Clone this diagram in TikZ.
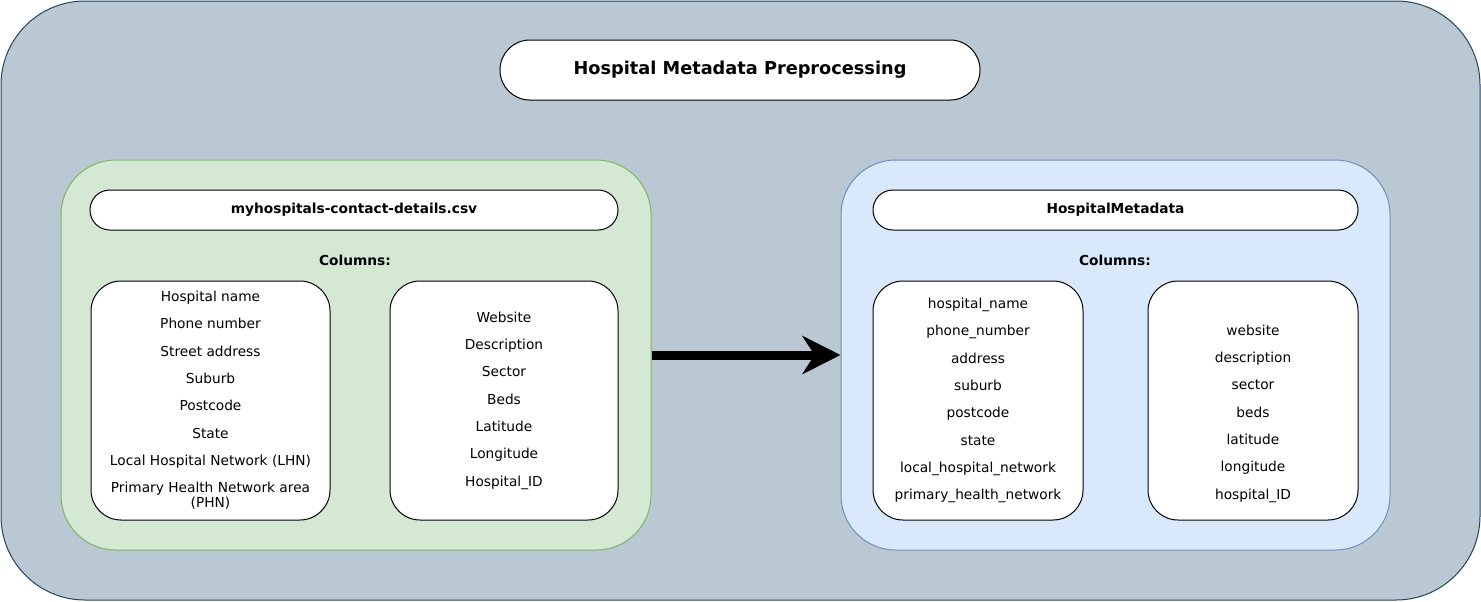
\documentclass[tikz,border=0pt]{standalone}
\usepackage{fontspec}
\setmainfont{DejaVu Sans}
\usetikzlibrary{arrows.meta,calc,positioning}
\definecolor{framefill}{HTML}{BAC8D3}
\definecolor{framedraw}{HTML}{23445D}
\definecolor{srcfill}{HTML}{D5E8D4}
\definecolor{srcdraw}{HTML}{82B366}
\definecolor{dstfill}{HTML}{DAE8FC}
\definecolor{dstdraw}{HTML}{6C8EBF}
\tikzset{
  panel/.style={draw, line width=0.75pt, rounded corners=41pt, inner sep=0pt,
    minimum height=292.5pt},
  pill/.style={draw=black, line width=0.75pt, fill=white, inner sep=0pt,
    font=\fontsize{10.3}{12}\selectfont\bfseries},
  colbox/.style={draw=black, line width=0.75pt, fill=white, rounded corners=22.5pt,
    inner sep=0pt, minimum height=179.25pt},
  coltext/.style={align=center, inner sep=0pt, font=\fontsize{10.3}{20.5}\selectfont},
  heading/.style={inner sep=0pt, font=\fontsize{10.3}{12}\selectfont\bfseries}
}
\begin{document}
\begin{tikzpicture}[x=0.75pt,y=-0.75pt]
\useasboundingbox (0,0) rectangle (1481,601);
\draw[fill=framefill, draw=framedraw, line width=0.75pt, rounded corners=63pt] (1,1) rectangle (1480,600);
% title
\node (title) at (740,70) [pill, minimum width=360pt, minimum height=45pt,
  rounded corners=22.4pt, font=\fontsize{13.3}{15}\selectfont\bfseries] {Hospital Metadata Preprocessing};
% source file
\node (src) at (356,355) [panel, fill=srcfill, draw=srcdraw, minimum width=442.5pt] {};
\node (srcname) at (354,210) [pill, minimum width=396pt, minimum height=30pt,
  rounded corners=14.9pt] {myhospitals-contact-details.csv};
\node (srccols) at (355,260) [heading] {Columns:};
\node (srcA) at (210.5,400.5) [colbox, minimum width=179.25pt] {};
\node (srcB) at (504,400.5) [colbox, minimum width=171pt] {};
\node (srcAtxt) at (srcA.center) [coltext] {Hospital name\\Phone number\\Street address\\Suburb\\Postcode\\State\\Local Hospital Network (LHN)\\Primary Health Network area\\[-9.25pt](PHN)};
\node (srcBtxt) at (srcB.center) [coltext] {Website\\Description\\Sector\\Beds\\Latitude\\Longitude\\Hospital\_ID};
% target table
\node (dst) at (1115.5,355) [panel, fill=dstfill, draw=dstdraw, minimum width=411.75pt] {};
\node (dstname) at (1115.5,210) [pill, minimum width=363.75pt, minimum height=30pt,
  rounded corners=14.9pt] {HospitalMetadata};
\node (dstcols) at (1115,260) [heading] {Columns:};
\node (dstA) at (978,400.5) [colbox, minimum width=157.5pt] {};
\node (dstB) at (1253,400.5) [colbox, minimum width=157.5pt] {};
\node (dstAtxt) at (dstA.center) [coltext] {hospital\_name\\phone\_number\\address\\suburb\\postcode\\state\\local\_hospital\_network\\primary\_health\_network};
\node (dstBtxt) at ($(dstB.center)+(0,13)$) [coltext] {website\\description\\sector\\beds\\latitude\\longitude\\hospital\_ID};
% arrow
\draw[line width=6.75pt, -{Stealth[length=28.5pt,width=28.5pt,inset=9pt]}] (src.east) -- (dst.west);
\end{tikzpicture}
\end{document}
